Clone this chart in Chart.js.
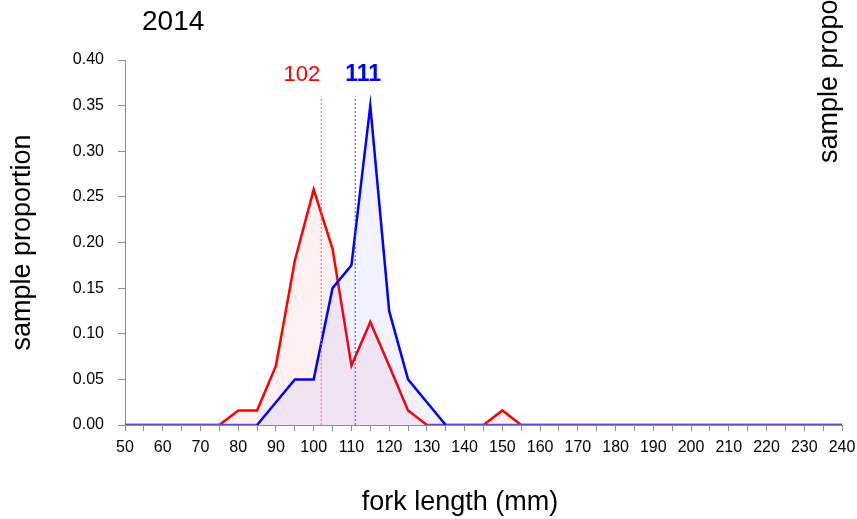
<!DOCTYPE html>
<html>
<head>
<meta charset="utf-8">
<title>2014 fork length distribution</title>
<script src="https://cdn.jsdelivr.net/npm/chart.js@4/dist/chart.umd.min.js"></script>
<style>
  html, body { margin: 0; padding: 0; background: #ffffff; }
  #wrap { width: 857px; height: 519px; }
</style>
</head>
<body>
<div id="wrap"><canvas id="chart" width="857" height="519"></canvas></div>
<script>
// Fork length bins (mm)
const forkLength = [50, 55, 60, 65, 70, 75, 80, 85, 90, 95, 100, 105, 110, 115, 120, 125, 130,
  135, 140, 145, 150, 155, 160, 165, 170, 175, 180, 185, 190, 195, 200, 205, 210, 215, 220,
  225, 230, 235, 240];

// Sample proportion per bin, red group
const redProportion = [0, 0, 0, 0, 0, 0, 0.016, 0.016, 0.065, 0.18, 0.258, 0.193, 0.065, 0.113,
  0.065, 0.016, 0, 0, 0, 0, 0.016, 0, 0, 0, 0, 0, 0, 0, 0, 0, 0, 0, 0, 0, 0, 0, 0, 0, 0];

// Sample proportion per bin, blue group
const blueProportion = [0, 0, 0, 0, 0, 0, 0, 0, 0.025, 0.05, 0.05, 0.15, 0.175, 0.35, 0.125,
  0.05, 0.025, 0, 0, 0, 0, 0, 0, 0, 0, 0, 0, 0, 0, 0, 0, 0, 0, 0, 0, 0, 0, 0, 0];

// Mean fork length of each group and the height of its marker line
const meanLength = { red: 102, blue: 111 };
const meanLineTop = 0.36;

const yTicks = [0, 0.05, 0.1, 0.15, 0.2, 0.25, 0.3, 0.35, 0.4];

const FONT = "'Liberation Sans', Arial, sans-serif";

const toPoints = (vals) => vals.map((v, i) => ({ x: forkLength[i], y: v }));

// Text drawn outside the plot: year, x title, mean labels, and the right-hand axis title
const extraText = {
  id: 'extraText',
  afterDraw(chart) {
    const { ctx, scales: { x } } = chart;
    ctx.save();
    ctx.fillStyle = '#000000';
    ctx.font = `28px ${FONT}`;
    ctx.textAlign = 'left';
    ctx.textBaseline = 'middle';
    ctx.fillText('2014', 142, 22);

    ctx.font = `27px ${FONT}`;
    ctx.textAlign = 'center';
    ctx.fillText('fork length (mm)', 460, 503);

    // right-hand axis title, partly off the canvas
    ctx.save();
    ctx.translate(830, 54);
    ctx.rotate(-Math.PI / 2);
    ctx.textAlign = 'left';
    ctx.fillText('sample proportion', -109, 0);
    ctx.restore();

    const labelY = 75;
    ctx.font = `22px ${FONT}`;
    ctx.fillStyle = '#ff0000';
    ctx.textAlign = 'right';
    ctx.fillText(String(meanLength.red), x.getPixelForValue(meanLength.red) - 1, labelY);

    ctx.font = `bold 23px ${FONT}`;
    ctx.fillStyle = '#0000ff';
    ctx.textAlign = 'left';
    ctx.fillText(String(meanLength.blue), x.getPixelForValue(meanLength.blue) - 10, labelY);
    ctx.restore();
  }
};

// zero-to-zero stretches merge into the purple baseline
const baselineColor = (base) => (c) =>
  (c.p0.parsed.y === 0 && c.p1.parsed.y === 0) ? '#5a50cc' : base;

new Chart(document.getElementById('chart'), {
  type: 'line',
  data: {
    datasets: [
      {
        label: 'mean red',
        data: [{ x: meanLength.red, y: 0 }, { x: meanLength.red, y: meanLineTop }],
        borderColor: '#ff5a5a',
        borderWidth: 1,
        borderDash: [2, 2],
        pointRadius: 0,
        fill: false,
        order: 1
      },
      {
        label: 'mean blue',
        data: [{ x: meanLength.blue, y: 0 }, { x: meanLength.blue, y: meanLineTop }],
        borderColor: '#3a3aff',
        borderWidth: 1,
        borderDash: [2, 2],
        pointRadius: 0,
        fill: false,
        order: 0
      },
      {
        label: 'red',
        data: toPoints(redProportion),
        borderColor: '#ff0000',
        backgroundColor: 'rgba(255, 60, 60, 0.07)',
        borderWidth: 2.5,
        pointRadius: 0,
        tension: 0,
        fill: 'origin',
        segment: { borderColor: baselineColor('#ff0000') },
        order: 3
      },
      {
        label: 'blue',
        data: toPoints(blueProportion),
        borderColor: '#0000ff',
        backgroundColor: 'rgba(60, 60, 255, 0.07)',
        borderWidth: 2.5,
        pointRadius: 0,
        tension: 0,
        fill: 'origin',
        segment: { borderColor: baselineColor('#0000ff') },
        order: 2
      }
    ]
  },
  options: {
    responsive: false,
    devicePixelRatio: 1,
    animation: false,
    layout: { padding: { top: 60, right: 15, bottom: 0, left: 0 } },
    plugins: {
      legend: { display: false },
      tooltip: { enabled: false },
      title: { display: false }
    },
    scales: {
      x: {
        type: 'linear',
        min: 50,
        max: 240,
        afterFit: (s) => { s.height = 94; s.paddingLeft = 0; s.paddingRight = 0; },
        ticks: {
          stepSize: 5,
          autoSkip: false,
          maxRotation: 0,
          padding: 7,
          color: '#000000',
          font: { family: FONT, size: 16 },
          callback: (v) => (v % 10 === 0 ? String(v) : '')
        },
        grid: { drawOnChartArea: false, drawTicks: true, tickLength: 6, color: '#8c8c8c' },
        border: { color: '#8c8c8c', width: 1 }
      },
      y: {
        min: 0,
        max: 0.4,
        afterFit: (s) => { s.width = 125; s.paddingTop = 0; s.paddingBottom = 0; },
        afterBuildTicks: (s) => { s.ticks = yTicks.map((v) => ({ value: v })); },
        ticks: {
          padding: 14,
          color: '#000000',
          font: { family: FONT, size: 16 },
          callback: (v) => Number(v).toFixed(2)
        },
        grid: { drawOnChartArea: false, drawTicks: true, tickLength: 7, color: '#8c8c8c' },
        border: { color: '#8c8c8c', width: 1 },
        title: {
          display: true,
          text: 'sample proportion',
          color: '#000000',
          font: { family: FONT, size: 27 },
          padding: { top: 6, bottom: 0 }
        }
      }
    }
  },
  plugins: [extraText]
});
</script>
</body>
</html>
